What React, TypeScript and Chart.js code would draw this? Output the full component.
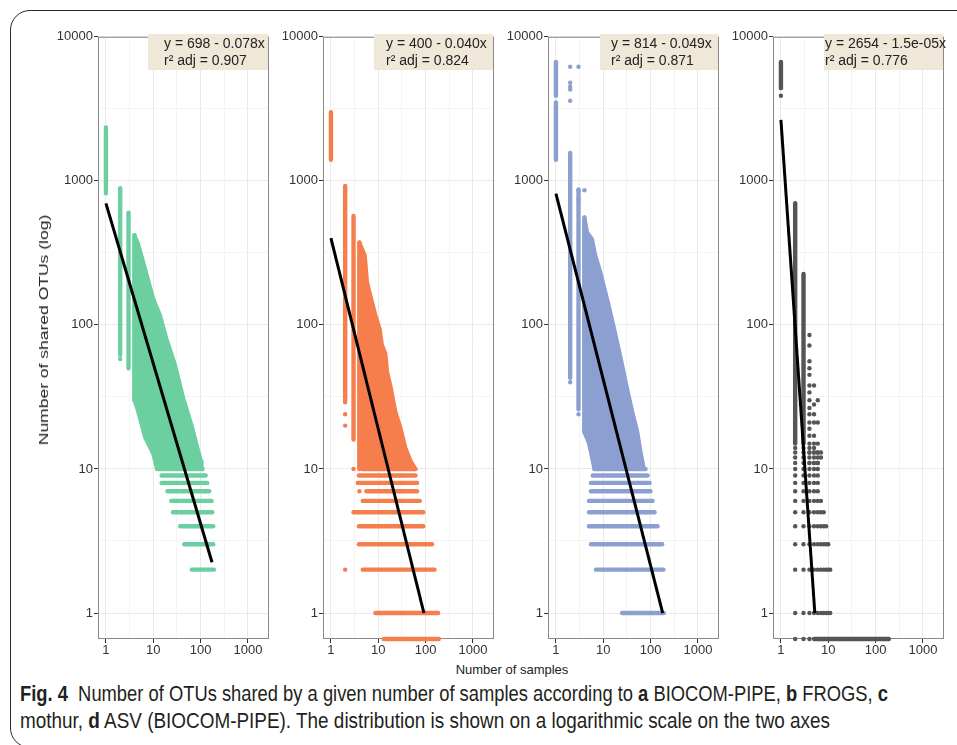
import React, { useEffect, useLayoutEffect, useRef } from 'react';
import { Chart, registerables } from 'chart.js';

Chart.register(...registerables);

// ---------- axes ----------
const X_MIN = 0.68;
const X_MAX = 2780;
const Y_MIN = 0.66;
const Y_MAX = 10000;
const X_BREAKS = [1, 10, 100, 1000];
const X_MINOR = [3.162, 31.62, 316.2];
const Y_BREAKS = [1, 10, 100, 1000, 10000];
const Y_MINOR = [3.162, 31.62, 316.2, 3162];

// ---------- panel styling / labels ----------
const PANEL_COLORS = ['#6ccf9f', '#f67e4d', '#8c9fd1', '#555555'];
const EQUATIONS = ['y = 698 - 0.078x', 'y = 400 - 0.040x', 'y = 814 - 0.049x', 'y = 2654 - 1.5e-05x'];
const R2_LABELS = ['r² adj = 0.907', 'r² adj = 0.824', 'r² adj = 0.871', 'r² adj = 0.776'];

// ---------- data (number of samples x, number of shared OTUs y) ----------
// columns: [x, yLow, yHigh]  — dense vertical runs of points at one sample count
// rows:    [y, xLow, xHigh]  — dense horizontal runs of points at one OTU count (0 = drawn at panel edge)
// blob:    outline [x, y] of the dense cloud
// dots:    isolated points [x, y]
// fit:     regression line end points [x, y]

const colsA = [[1, 850, 2300], [2, 62, 890], [3, 50, 600], [4, 30, 420]];
const rowsA = [[2, 65, 190], [3, 45, 185], [4, 37, 185], [5, 26, 176], [6, 24, 171], [7, 20, 152], [8, 15, 138], [9, 15, 128], [10, 12, 110]];
const blobA = [[4, 420], [4.8, 364], [6.7, 245], [10, 152], [13.8, 117], [19, 80], [28.7, 53], [43, 31], [64.7, 20], [82, 14.8], [102, 11.3], [105, 10], [12, 10], [10, 12.7], [6.7, 16.6], [4.8, 25], [4, 30]];
const dotsA = [[1, 2350], [1, 820], [2, 58]];
const fitA = [[1, 698], [174, 2.25]];

const colsB = [[1, 1400, 3000], [2, 29, 920], [3, 16, 570], [4, 10, 373]];
const rowsB = [[0, 13, 190], [1, 8.7, 184], [2, 4.7, 154], [3, 3.9, 137], [4, 3.9, 89], [5, 3, 89], [6, 4.7, 75], [7, 5.6, 66], [8, 3.7, 66], [9, 3.9, 61], [10, 4.6, 61]];
const blobB = [[4, 373], [5.2, 303], [5.8, 198], [6.8, 160], [8.7, 117], [10.7, 94], [12, 72.5], [14.2, 63], [15.4, 47], [18, 38], [23, 25], [29.4, 19.3], [37.5, 14], [48, 11.4], [61, 10], [4, 10]];
const dotsB = [[2, 24], [2, 20], [3, 10], [4, 7], [2, 2]];
const fitB = [[1, 400], [92, 1]];

const colsC = [[1, 1400, 3500], [1, 3900, 6700], [2, 43, 1560], [3, 26, 870], [4, 18, 556]];
const rowsC = [[1, 25, 190], [2, 7, 186], [3, 5.5, 175], [4, 5, 140], [5, 5, 121], [6, 5, 110], [7, 5.5, 99], [8, 5.5, 95], [9, 6, 86], [10, 6.5, 78]];
const blobC = [[4, 556], [4.56, 438], [5.8, 393], [6.8, 303], [8.7, 232], [10.2, 188], [13, 137], [16.6, 97], [21, 69], [27, 47], [32, 36], [41, 25], [52, 18.3], [61, 13.3], [72, 10], [6.5, 10], [5, 15], [4, 18]];
const dotsC = [[2, 6200], [3, 6200], [2, 4800], [2, 4500], [2, 4300], [2, 3600], [3, 860], [4, 860], [3, 740], [2, 40], [3, 24]];
const fitC = [[1, 814], [180, 1]];

const colsD = [[1, 4400, 6700], [2, 15, 700], [3, 15, 226]];
const rowsD = [[0, 5, 190]];
const dotsD = [
  [1, 3900],
  [4, 85], [4, 72], [4, 56], [4, 50], [4, 45], [4, 38], [4, 34], [4, 30], [4, 26.5], [4, 24], [4, 21], [4, 19], [4, 17], [4, 15], [4, 13], [4, 11],
  [5, 38], [5, 28], [5, 24], [5, 21], [5, 17], [5, 15], [5, 13], [5, 11],
  [6, 30], [6, 21], [6, 15], [6, 13], [6, 11], [7, 13],
  [2, 0], [3, 0], [4, 0],
];
// discrete rows of panel d: [y, sample counts present]
const levelsD = [
  [1, [2, 3, 4, 5, 6, 7, 8, 9, 10, 11]],
  [2, [2, 3, 4, 5, 6, 7, 8, 9, 10, 11]],
  [3, [2, 3, 4, 5, 6, 7, 8, 9, 10]],
  [4, [2, 3, 4, 5, 6, 7, 8, 9]],
  [5, [2, 3, 4, 5, 6, 7, 8]],
  [6, [2, 3, 4, 5, 6, 7]],
  [7, [2, 3, 4, 5, 6]],
  [8, [2, 3, 4, 5, 6]],
  [9, [2, 3, 4, 5, 6]],
  [10, [2, 3, 4, 5, 6]],
  [11, [2, 3, 4, 5, 6]],
  [12, [2, 3, 4, 5, 6, 7]],
  [13, [2, 3, 4, 5, 6]],
  [14, [2, 3, 4, 5]],
];
const fitD = [[1, 2654], [5.2, 1]];

type Panel = {
  cols: number[][];
  rows: number[][];
  blob: number[][] | null;
  dots: number[][];
  levels: any[];
  fit: number[][];
};

const PANELS: Panel[] = [
  { cols: colsA, rows: rowsA, blob: blobA, dots: dotsA, levels: [], fit: fitA },
  { cols: colsB, rows: rowsB, blob: blobB, dots: dotsB, levels: [], fit: fitB },
  { cols: colsC, rows: rowsC, blob: blobC, dots: dotsC, levels: [], fit: fitC },
  { cols: colsD, rows: rowsD, blob: null, dots: dotsD, levels: levelsD, fit: fitD },
];

// ---------- layout ----------
const PLOT_LEFTS = [98, 323, 548, 773];
const PLOT_TOP = 33;
const PLOT_W = 171;
const PLOT_H = 606;
const Y_AXIS_W = 58;
const X_AXIS_H = 22;
const PAD_T = 5;
const PAD_R = 6;
const BOX_LEFTS = [148, 374, 600, 824];
const TEXT_LEFTS = [164, 386, 611, 825];

const TICK_FONT = { family: '"Liberation Sans", Arial, sans-serif', size: 13 };
const PT = 2.2; // point radius

const yv = (y: number) => (y <= 0 ? Y_MIN : y);
const isDecade = (v: number) => Math.abs(Math.log10(v) - Math.round(Math.log10(v))) < 1e-6;

function buildDatasets(p: Panel, color: string) {
  const ds: any[] = [];
  const seg = (pts: { x: number; y: number }[]) => ({
    type: 'line',
    data: pts,
    borderColor: color,
    backgroundColor: color,
    borderWidth: PT * 2,
    borderCapStyle: 'round',
    borderJoinStyle: 'round',
    pointRadius: 0,
    fill: false,
    tension: 0,
    clip: 0,
    order: 2,
  });
  if (p.blob) {
    const pts = [...p.blob, p.blob[0]].map(([x, y]) => ({ x, y }));
    ds.push({ ...seg(pts), fill: 'shape', borderWidth: 4 });
  }
  p.cols.forEach(([x, y0, y1]) => ds.push(seg([{ x, y: y0 }, { x, y: y1 }])));
  // rows at 0 sit on the panel edge and are not clipped (as in the original)
  p.rows.forEach(([y, x0, x1]) =>
    ds.push({ ...seg([{ x: x0, y: yv(y) }, { x: x1, y: yv(y) }]), clip: y <= 0 ? false : 0 })
  );
  const dots: { x: number; y: number }[] = p.dots.map(([x, y]) => ({ x, y: yv(y) }));
  p.levels.forEach(([y, xs]: [number, number[]]) => xs.forEach((x) => dots.push({ x, y })));
  ds.push({
    type: 'scatter',
    data: dots,
    pointRadius: PT,
    pointBackgroundColor: color,
    pointBorderWidth: 0,
    showLine: false,
    clip: false,
    order: 2,
  });
  ds.push({
    type: 'line',
    data: p.fit.map(([x, y]) => ({ x, y })),
    borderColor: '#000',
    borderWidth: 3,
    pointRadius: 0,
    fill: false,
    clip: 0,
    order: 0,
  });
  return ds;
}

const borderPlugin = {
  id: 'panelBorder',
  beforeDatasetsDraw(chart: any) {
    const { ctx, chartArea: a } = chart;
    ctx.save();
    ctx.strokeStyle = '#8a8a8a';
    ctx.lineWidth = 1;
    ctx.strokeRect(a.left + 0.5, a.top + 0.5, a.right - a.left - 1, a.bottom - a.top - 1);
    ctx.restore();
  },
};

function axis(kind: 'x' | 'y') {
  const min = kind === 'x' ? X_MIN : Y_MIN;
  const max = kind === 'x' ? X_MAX : Y_MAX;
  const breaks = kind === 'x' ? X_BREAKS : Y_BREAKS;
  const minor = kind === 'x' ? X_MINOR : Y_MINOR;
  return {
    type: 'logarithmic',
    position: kind === 'x' ? 'bottom' : 'left',
    min,
    max,
    afterBuildTicks: (s: any) => {
      s.ticks = [...breaks, ...minor].sort((a, b) => a - b).map((v) => ({ value: v }));
    },
    afterFit: (s: any) => {
      if (kind === 'x') s.height = X_AXIS_H;
      else s.width = Y_AXIS_W;
    },
    ticks: {
      autoSkip: false,
      maxRotation: 0,
      minRotation: 0,
      padding: kind === 'x' ? 0 : 1,
      color: '#333',
      font: TICK_FONT,
      callback: (v: number) => (isDecade(v) ? String(Math.round(v)) : ''),
    },
    grid: {
      drawOnChartArea: true,
      color: (c: any) => (c.tick && isDecade(c.tick.value) ? '#e9e9e9' : '#f4f4f4'),
      lineWidth: 1,
      tickColor: (c: any) => (c.tick && isDecade(c.tick.value) ? '#333' : 'rgba(0,0,0,0)'),
      tickLength: 4,
      tickWidth: 1,
    },
    border: { display: false },
  };
}

function PanelChart({ index }: { index: number }) {
  const ref = useRef<HTMLCanvasElement | null>(null);
  useEffect(() => {
    if (!ref.current) return;
    const chart = new Chart(ref.current, {
      type: 'line',
      data: { datasets: buildDatasets(PANELS[index], PANEL_COLORS[index]) as any },
      options: {
        animation: false,
        responsive: false,
        events: [],
        layout: { padding: { top: PAD_T, right: PAD_R, left: 0, bottom: 0 } },
        plugins: { legend: { display: false }, tooltip: { enabled: false } },
        scales: { x: axis('x') as any, y: axis('y') as any },
      },
      plugins: [borderPlugin],
    });
    return () => chart.destroy();
  }, [index]);
  const w = Y_AXIS_W + PLOT_W + PAD_R;
  const h = PAD_T + PLOT_H + X_AXIS_H;
  return (
    <canvas
      ref={ref}
      width={w}
      height={h}
      style={{ position: 'absolute', left: PLOT_LEFTS[index] - Y_AXIS_W, top: PLOT_TOP - PAD_T, width: w, height: h }}
    />
  );
}

// a caption line squeezed to the measured width of the condensed original
function FitLine({ width, top, children }: { width: number; top: number; children: React.ReactNode }) {
  const ref = useRef<HTMLDivElement | null>(null);
  useLayoutEffect(() => {
    const el = ref.current;
    if (!el) return;
    el.style.transform = 'none';
    const w = el.getBoundingClientRect().width;
    if (w > 0) el.style.transform = `scaleX(${width / w})`;
  }, [width]);
  return (
    <div
      ref={ref}
      style={{
        position: 'absolute', left: 20, top, fontFamily: '"Liberation Sans", Arial, sans-serif', fontSize: 22,
        lineHeight: '27px', color: '#231f20', whiteSpace: 'nowrap', transformOrigin: '0 0',
      }}
    >
      {children}
    </div>
  );
}

export default function App() {
  const sans = '"Liberation Sans", Arial, sans-serif';
  return (
    <div style={{ position: 'absolute', left: 0, top: 0, width: 957, height: 745, overflow: 'hidden', background: '#fff' }}>
      <div
        style={{
          position: 'absolute', left: 10, top: 10, width: 980, height: 738,
          border: '1.6px solid #2a2a2a', borderRadius: 20, boxSizing: 'border-box',
        }}
      />
      {PANELS.map((_, i) => (
        <PanelChart key={i} index={i} />
      ))}
      {PANELS.map((_, i) => (
        <div
          key={'box' + i}
          style={{
            position: 'absolute', left: BOX_LEFTS[i], top: PLOT_TOP + 0.5,
            width: PLOT_LEFTS[i] + PLOT_W - 1 - BOX_LEFTS[i], height: 36, background: '#efe7d8',
          }}
        />
      ))}
      {PANELS.map((_, i) => (
        <div
          key={'eq' + i}
          style={{
            position: 'absolute', left: TEXT_LEFTS[i], top: 35, fontFamily: sans, fontSize: 14,
            lineHeight: '17px', color: '#222', whiteSpace: 'nowrap',
          }}
        >
          {EQUATIONS[i]}
          <br />
          {R2_LABELS[i]}
        </div>
      ))}
      <div
        style={{
          position: 'absolute', left: 44, top: 330, fontFamily: sans, fontSize: 12.5, color: '#222',
          whiteSpace: 'nowrap', transform: 'translate(-50%, -50%) rotate(-90deg) scaleX(1.4)',
        }}
      >
        Number of shared OTUs (log)
      </div>
      <div
        style={{
          position: 'absolute', left: 512, top: 669, fontFamily: sans, fontSize: 13, color: '#222',
          whiteSpace: 'nowrap', transform: 'translate(-50%, -50%)',
        }}
      >
        Number of samples
      </div>
      <FitLine width={868} top={680}>
        <b>Fig. 4</b>&nbsp; Number of OTUs shared by a given number of samples according to <b>a</b> BIOCOM-PIPE,{' '}
        <b>b</b> FROGS, <b>c</b>
      </FitLine>
      <FitLine width={810} top={707}>
        mothur, <b>d</b> ASV (BIOCOM-PIPE). The distribution is shown on a logarithmic scale on the two axes
      </FitLine>
    </div>
  );
}
